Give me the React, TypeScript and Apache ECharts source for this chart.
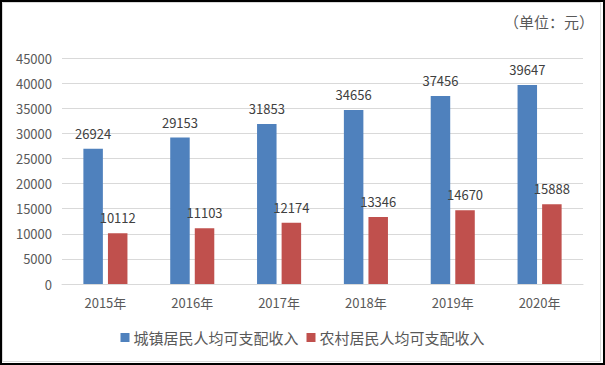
import React, { useEffect, useRef } from "react";
import * as echarts from "echarts";

const categories = ["2015年", "2016年", "2017年", "2018年", "2019年", "2020年"];
const urbanName = "城镇居民人均可支配收入";
const ruralName = "农村居民人均可支配收入";
const urbanValues = [26924, 29153, 31853, 34656, 37456, 39647];
const ruralValues = [10112, 11103, 12174, 13346, 14670, 15888];
const unitText = "（单位：元）";

const FONT = "'Noto Sans CJK SC', 'Noto Sans', sans-serif";

export default function App() {
  const ref = useRef<HTMLDivElement>(null);
  useEffect(() => {
    document.body.style.margin = "0";
    const chart = echarts.init(ref.current!, undefined, { renderer: "svg" });
    const labelStyle = {
      show: true,
      position: "top" as const,
      distance: 9,
      color: "#404040",
      fontSize: 13,
      fontFamily: FONT,
    };
    chart.setOption({
      animation: false,
      backgroundColor: "#ffffff",
      textStyle: { fontFamily: FONT },
      grid: { left: 62, right: 22, top: 58, bottom: 81, containLabel: false },
      legend: {
        data: [urbanName, ruralName],
        left: "center",
        top: 325,
        itemWidth: 9,
        itemHeight: 9,
        itemGap: 8,
        icon: "rect",
        textStyle: { color: "#595959", fontSize: 15, fontFamily: FONT, padding: [0, 0, 0, -1] },
      },
      xAxis: {
        type: "category",
        data: categories,
        axisLine: { show: true, lineStyle: { color: "#D9D9D9", width: 1 } },
        axisTick: { show: false },
        axisLabel: { color: "#595959", fontSize: 13, margin: 12, fontFamily: FONT },
      },
      yAxis: {
        type: "value",
        min: 0,
        max: 45000,
        interval: 5000,
        axisLine: { show: false },
        axisTick: { show: false },
        axisLabel: {
          color: "#595959",
          fontSize: 13,
          margin: 10,
          fontFamily: FONT,
          formatter: (v: number) => String(v),
        },
        splitLine: { lineStyle: { color: "#D9D9D9", width: 1 } },
      },
      series: [
        {
          name: urbanName,
          type: "bar",
          data: urbanValues,
          barWidth: 19.5,
          barGap: "26%",
          itemStyle: { color: "#4F81BD" },
          label: labelStyle,
        },
        {
          name: ruralName,
          type: "bar",
          data: ruralValues,
          barWidth: 19.5,
          barGap: "26%",
          itemStyle: { color: "#C0504D" },
          label: labelStyle,
        },
      ],
      graphic: [
        {
          type: "rect",
          shape: { x: 1, y: 1, width: 603, height: 363 },
          style: { fill: "none", stroke: "#000000", lineWidth: 2 },
          silent: true,
        },
        {
          type: "rect",
          shape: { x: 2.5, y: 2.5, width: 598, height: 359 },
          style: { fill: "none", stroke: "#D9D9D9", lineWidth: 1 },
          silent: true,
        },
        {
          type: "text",
          right: 11,
          top: 14,
          style: {
            text: unitText,
            fill: "#595959",
            fontSize: 15,
            fontFamily: FONT,
          },
        },
      ],
    });
    return () => chart.dispose();
  }, []);
  return (
    <div
      ref={ref}
      style={{ position: "fixed", left: 0, top: 0, width: 605, height: 365 }}
    />
  );
}
